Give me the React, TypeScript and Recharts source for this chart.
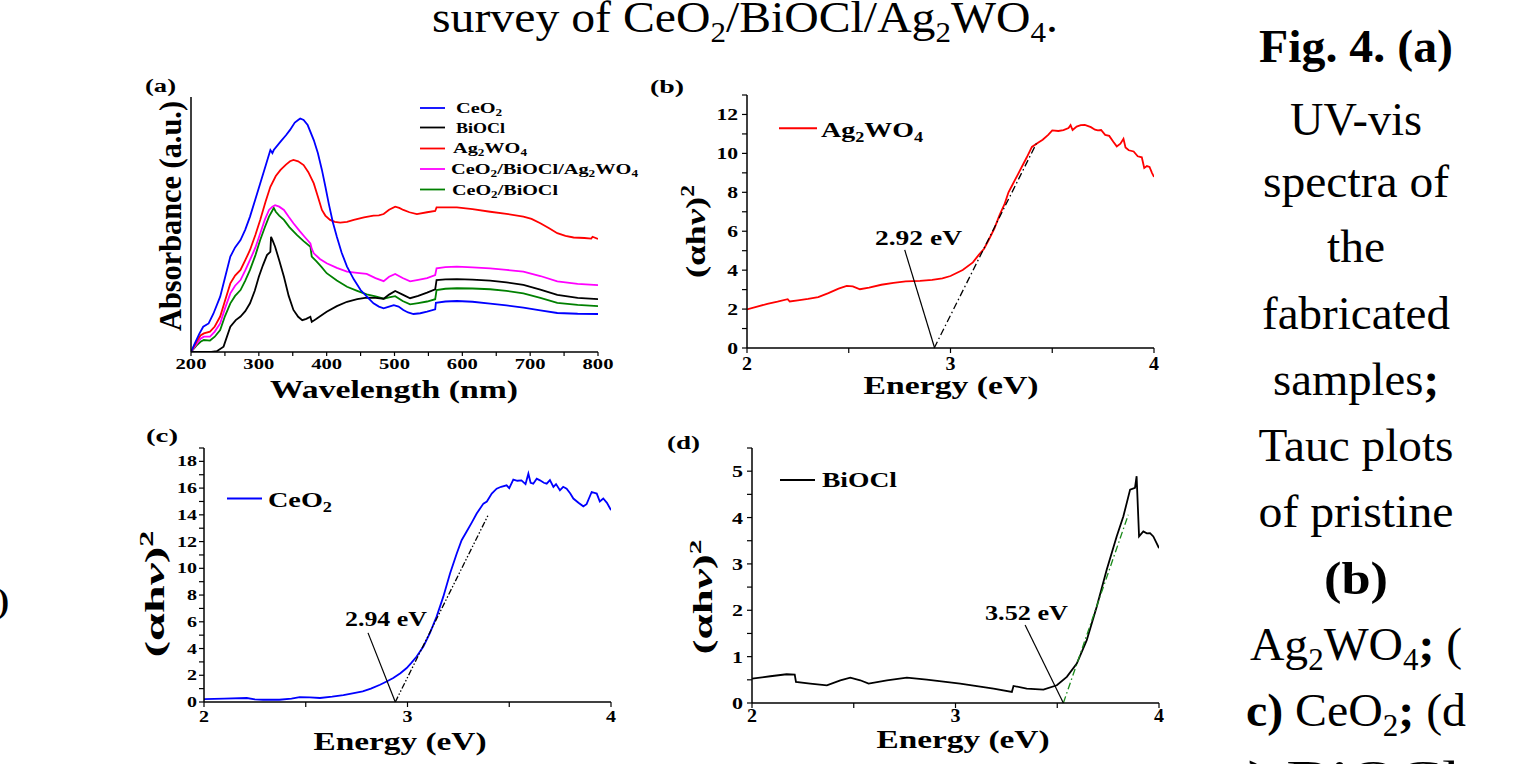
import React from 'react';
import { LineChart, Line, XAxis, YAxis, ReferenceLine } from 'recharts';

const SERIF = '"Liberation Serif", "Times New Roman", serif';

// ---------- Panel (a): UV-vis absorbance (wavelength nm, absorbance a.u.) ----------
const UV_CEO2: [number, number][] = [
  [200, 0], [205, 0.03], [212, 0.07], [218, 0.099], [226, 0.112], [233, 0.15], [243, 0.217], [250, 0.29],
  [258, 0.374], [265, 0.41], [273, 0.439], [280, 0.48], [287, 0.531], [295, 0.6], [302, 0.661], [310, 0.73],
  [317, 0.792], [320, 0.78], [322, 0.792], [332, 0.825], [340, 0.85], [346, 0.871], [353, 0.9], [358, 0.91],
  [361, 0.916], [366, 0.91], [372, 0.89], [381, 0.831], [387, 0.78], [393, 0.714], [398, 0.65], [403, 0.583],
  [409, 0.51], [415, 0.452], [422, 0.39], [430, 0.335], [440, 0.285], [450, 0.243], [460, 0.215], [469, 0.191],
  [477, 0.178], [484, 0.171], [492, 0.178], [499, 0.184], [506, 0.178], [513, 0.165], [520, 0.155], [528, 0.149],
  [538, 0.152], [548, 0.158], [560, 0.167], [561, 0.193], [575, 0.198], [592, 0.2], [615, 0.197], [641, 0.19],
  [665, 0.183], [690, 0.174], [715, 0.163], [740, 0.153], [770, 0.15], [800, 0.149],
];
const UV_BIOCL: [number, number][] = [
  [200, 0], [215, 0], [230, 0], [238, 0.003], [248, 0.021], [258, 0.099], [266, 0.125], [273, 0.139],
  [280, 0.16], [287, 0.191], [294, 0.24], [300, 0.295], [306, 0.34], [312, 0.38], [317, 0.393], [318, 0.452],
  [320, 0.44], [324, 0.413], [330, 0.36], [337, 0.295], [344, 0.22], [351, 0.165], [358, 0.138], [364, 0.125],
  [370, 0.13], [376, 0.138], [378, 0.118], [385, 0.13], [400, 0.158], [415, 0.18], [430, 0.197], [445, 0.207],
  [459, 0.213], [472, 0.212], [484, 0.209], [492, 0.225], [501, 0.239], [512, 0.225], [523, 0.211], [535, 0.22],
  [548, 0.233], [560, 0.246], [562, 0.282], [575, 0.285], [592, 0.286], [615, 0.284], [641, 0.28], [665, 0.273],
  [690, 0.263], [715, 0.245], [740, 0.224], [770, 0.212], [800, 0.207],
];
const UV_AG2WO4: [number, number][] = [
  [200, 0], [208, 0.04], [214, 0.065], [219, 0.073], [228, 0.08], [235, 0.1], [243, 0.139], [250, 0.2],
  [258, 0.269], [265, 0.3], [273, 0.322], [280, 0.36], [287, 0.4], [295, 0.46], [302, 0.518], [310, 0.59],
  [317, 0.648], [325, 0.69], [332, 0.714], [340, 0.735], [346, 0.748], [351, 0.753], [358, 0.748], [366, 0.733],
  [373, 0.705], [381, 0.661], [387, 0.61], [393, 0.557], [398, 0.535], [405, 0.518], [412, 0.51], [420, 0.507],
  [430, 0.51], [440, 0.518], [455, 0.528], [469, 0.535], [477, 0.536], [484, 0.541], [492, 0.558], [501, 0.57],
  [507, 0.565], [513, 0.557], [522, 0.548], [533, 0.541], [548, 0.548], [560, 0.553], [562, 0.567], [575, 0.567],
  [592, 0.567], [615, 0.56], [641, 0.55], [665, 0.542], [690, 0.531], [702, 0.522], [715, 0.505], [728, 0.485],
  [740, 0.466], [752, 0.455], [764, 0.449], [780, 0.447], [790, 0.445], [792, 0.452], [800, 0.443],
];
const UV_CEO2_BIOCL_AG2WO4: [number, number][] = [
  [200, 0], [208, 0.03], [214, 0.052], [219, 0.06], [228, 0.06], [235, 0.08], [243, 0.112], [250, 0.17],
  [258, 0.23], [265, 0.26], [273, 0.282], [280, 0.32], [287, 0.361], [295, 0.41], [302, 0.465], [309, 0.52],
  [315, 0.557], [320, 0.57], [324, 0.576], [330, 0.57], [337, 0.557], [344, 0.53], [351, 0.505], [360, 0.475],
  [368, 0.45], [376, 0.426], [378, 0.405], [381, 0.387], [390, 0.365], [400, 0.348], [415, 0.33], [430, 0.315],
  [445, 0.31], [459, 0.306], [472, 0.29], [484, 0.278], [492, 0.295], [501, 0.306], [512, 0.29], [523, 0.277],
  [535, 0.283], [548, 0.29], [560, 0.302], [562, 0.328], [575, 0.333], [592, 0.335], [615, 0.332], [641, 0.328],
  [665, 0.322], [690, 0.315], [715, 0.298], [740, 0.277], [770, 0.267], [800, 0.262],
];
const UV_CEO2_BIOCL: [number, number][] = [
  [200, 0], [208, 0.025], [214, 0.04], [219, 0.047], [228, 0.045], [235, 0.06], [243, 0.086], [250, 0.14],
  [258, 0.191], [265, 0.22], [273, 0.243], [280, 0.28], [287, 0.322], [295, 0.38], [302, 0.439], [309, 0.49],
  [315, 0.531], [320, 0.555], [322, 0.565], [325, 0.55], [330, 0.535], [337, 0.518], [345, 0.49], [356, 0.459],
  [366, 0.435], [376, 0.413], [378, 0.374], [385, 0.355], [392, 0.335], [400, 0.309], [415, 0.28], [430, 0.256],
  [445, 0.24], [459, 0.226], [472, 0.218], [484, 0.209], [492, 0.214], [501, 0.219], [512, 0.2], [523, 0.187],
  [535, 0.192], [548, 0.198], [560, 0.207], [562, 0.243], [575, 0.248], [592, 0.25], [615, 0.249], [641, 0.246],
  [665, 0.24], [690, 0.23], [715, 0.212], [740, 0.193], [770, 0.185], [800, 0.18],
];

// ---------- Panel (b): Tauc plot Ag2WO4 ----------
const TAUC_AG2WO4: [number, number][] = [
  [2.0, 1.98], [2.05, 2.12], [2.1, 2.27], [2.15, 2.38], [2.2, 2.51], [2.21, 2.39], [2.25, 2.45], [2.3, 2.52],
  [2.35, 2.62], [2.4, 2.82], [2.45, 3.05], [2.49, 3.19], [2.52, 3.17], [2.555, 3.02], [2.6, 3.1], [2.66, 3.25],
  [2.72, 3.35], [2.78, 3.42], [2.85, 3.45], [2.91, 3.5], [2.96, 3.58], [3.0, 3.7], [3.06, 4.01], [3.11, 4.4],
  [3.14, 4.8], [3.165, 5.1], [3.19, 5.6], [3.216, 6.15], [3.24, 6.8], [3.267, 7.43], [3.285, 8.0], [3.3, 8.3],
  [3.33, 8.9], [3.35, 9.3], [3.375, 9.8], [3.4, 10.33], [3.43, 10.55], [3.453, 10.7], [3.48, 10.95], [3.5, 11.18],
  [3.53, 11.15], [3.555, 11.2], [3.58, 11.3], [3.59, 11.45], [3.6, 11.2], [3.62, 11.38], [3.64, 11.45], [3.66, 11.46],
  [3.69, 11.35], [3.71, 11.22], [3.724, 11.18], [3.74, 11.2], [3.76, 10.95], [3.78, 10.9], [3.8, 10.6], [3.817, 10.36],
  [3.835, 10.5], [3.85, 10.75], [3.86, 10.3], [3.876, 10.16], [3.9, 10.1], [3.92, 9.85], [3.94, 9.8], [3.952, 9.25],
  [3.965, 9.35], [3.978, 9.3], [3.99, 9.0], [4.0, 8.79],
];
const TANGENT_B: [number, number][] = [[2.92, 0], [3.422, 10.51]];
const POINTER_B: [number, number][] = [[2.775, 5.04], [2.922, 0]];

// ---------- Panel (c): Tauc plot CeO2 ----------
const TAUC_CEO2: [number, number][] = [
  [2.0, 0.22], [2.1, 0.25], [2.21, 0.3], [2.25, 0.2], [2.29, 0.17], [2.37, 0.17], [2.43, 0.25], [2.47, 0.37],
  [2.52, 0.35], [2.57, 0.3], [2.63, 0.4], [2.685, 0.52], [2.73, 0.65], [2.78, 0.8], [2.82, 1.0], [2.865, 1.29],
  [2.9, 1.55], [2.93, 1.79], [2.965, 2.15], [2.996, 2.54], [3.02, 2.95], [3.045, 3.4], [3.078, 4.15], [3.11, 5.15],
  [3.143, 6.39], [3.176, 7.88], [3.209, 9.62], [3.242, 11.11], [3.266, 12.1], [3.29, 12.73], [3.315, 13.4], [3.34, 14.1],
  [3.373, 14.84], [3.39, 15.0], [3.414, 15.59], [3.438, 15.96], [3.46, 16.1], [3.487, 16.21], [3.5, 16.0], [3.52, 16.63],
  [3.54, 16.55], [3.56, 16.58], [3.58, 16.3], [3.594, 17.08], [3.605, 16.4], [3.618, 16.33], [3.635, 16.7], [3.651, 16.58],
  [3.67, 16.4], [3.684, 16.33], [3.7, 16.6], [3.717, 16.09], [3.73, 16.3], [3.749, 15.84], [3.765, 16.1], [3.782, 15.96],
  [3.8, 15.6], [3.815, 15.22], [3.84, 14.9], [3.864, 14.64], [3.88, 14.8], [3.905, 15.71], [3.93, 15.59], [3.945, 15.0],
  [3.962, 15.22], [3.98, 14.9], [4.0, 14.35],
];
const TANGENT_C: [number, number][] = [[2.94, 0], [3.397, 14.0]];
const POINTER_C: [number, number][] = [[2.806, 5.17], [2.94, 0]];

// ---------- Panel (d): Tauc plot BiOCl ----------
const TAUC_BIOCL: [number, number][] = [
  [2.0, 0.527], [2.09, 0.577], [2.17, 0.62], [2.21, 0.613], [2.216, 0.455], [2.286, 0.418], [2.368, 0.382], [2.434, 0.49],
  [2.483, 0.548], [2.532, 0.49], [2.573, 0.418], [2.663, 0.49], [2.761, 0.548], [2.859, 0.505], [3.023, 0.418], [3.187, 0.31],
  [3.277, 0.238], [3.285, 0.368], [3.35, 0.31], [3.432, 0.289], [3.498, 0.382], [3.547, 0.563], [3.596, 0.851], [3.645, 1.356],
  [3.694, 2.078], [3.743, 2.872], [3.792, 3.593], [3.825, 4.026], [3.858, 4.603], [3.882, 4.639], [3.89, 4.892], [3.902, 3.593],
  [3.923, 3.701], [3.94, 3.66], [3.956, 3.665], [3.972, 3.593], [4.0, 3.34],
];
const TANGENT_D: [number, number][] = [[3.53, 0], [3.849, 4.06]];
const POINTER_D: [number, number][] = [[3.342, 1.68], [3.53, 0]];

// ---------- Ticks ----------
const A_XTICKS = [200, 250, 300, 350, 400, 450, 500, 550, 600, 650, 700, 750, 800];
const A_XLABELS = [200, 300, 400, 500, 600, 700, 800];
const E_XTICKS = [2, 2.5, 3, 3.5, 4];
const E_XLABELS = [2, 3, 4];
const B_YTICKS = [0, 1, 2, 3, 4, 5, 6, 7, 8, 9, 10, 11, 12, 13];
const B_YLABELS = [0, 2, 4, 6, 8, 10, 12];
const C_YTICKS = [0, 1, 2, 3, 4, 5, 6, 7, 8, 9, 10, 11, 12, 13, 14, 15, 16, 17, 18, 19];
const C_YLABELS = [0, 2, 4, 6, 8, 10, 12, 14, 16, 18];
const D_YTICKS = [0, 0.5, 1, 1.5, 2, 2.5, 3, 3.5, 4, 4.5, 5, 5.5];
const D_YLABELS = [0, 1, 2, 3, 4, 5];

const pts = (arr: [number, number][]) => arr.map(([x, y]) => ({ x, y }));

function makeTick(axis: 'x' | 'y', labels: number[], size: number, cw: number, dy: number) {
  return (props: any) => {
    const { x, y, payload } = props;
    const v = payload.value;
    if (!labels.some((l) => Math.abs(l - v) < 1e-9)) return <g />;
    const s = String(v);
    return (
      <text
        x={x}
        y={y}
        dy={dy}
        textAnchor={axis === 'y' ? 'end' : 'middle'}
        fontFamily={SERIF}
        fontWeight="bold"
        fontSize={size}
        textLength={s.length * cw}
        lengthAdjust="spacingAndGlyphs"
        fill="#000"
      >
        {s}
      </text>
    );
  };
}

type Part = { t: string; sub?: boolean; sup?: boolean; b?: boolean; i?: boolean };

function Txt(props: {
  x: number; y: number; size: number; len?: number; anchor?: 'start' | 'middle' | 'end';
  bold?: boolean; rot?: boolean; parts: Part[];
}) {
  const { x, y, size, len, anchor = 'start', bold = false, rot = false, parts } = props;
  let shift = 0;
  const children = parts.map((p, k) => {
    let target = 0;
    if (p.sub) target = size * 0.22;
    if (p.sup) target = -size * 0.4;
    const dy = target - shift;
    shift = target;
    return (
      <tspan
        key={k}
        dy={dy}
        fontSize={p.sub || p.sup ? size * 0.65 : size}
        fontWeight={p.b === undefined ? undefined : p.b ? 'bold' : 'normal'}
        fontStyle={p.i ? 'italic' : undefined}
      >
        {p.t}
      </tspan>
    );
  });
  return (
    <text
      x={x}
      y={y}
      fontFamily={SERIF}
      fontSize={size}
      fontWeight={bold ? 'bold' : 'normal'}
      textAnchor={anchor}
      fill="#000"
      textLength={len}
      lengthAdjust={len ? 'spacingAndGlyphs' : undefined}
      transform={rot ? `rotate(-90 ${x} ${y})` : undefined}
    >
      {children}
    </text>
  );
}

const axisLine = { stroke: '#000', strokeWidth: 1.5 };
const tickLine = { stroke: '#000', strokeWidth: 1.2 };

const TAUC_Y_TITLE: Part[] = [{ t: '(αh' }, { t: 'ν', i: true }, { t: ')' }, { t: '2', sup: true }];

export default function App() {
  return (
    <div style={{ position: 'absolute', left: 0, top: 0, width: 1516, height: 764, overflow: 'hidden', background: '#fff' }}>
      {/* Panel (a) */}
      <div style={{ position: 'absolute', left: 151, top: 87 }}>
        <LineChart width={467} height={305} margin={{ top: 10, right: 20, left: 0, bottom: 0 }}>
          <XAxis type="number" dataKey="x" domain={[200, 800]} ticks={A_XTICKS} interval={0} height={40}
            axisLine={axisLine} tickLine={tickLine} tickSize={4} tick={makeTick('x', A_XLABELS, 15, 10.3, 11)} allowDataOverflow />
          <YAxis type="number" dataKey="y" domain={[0, 1]} width={40} axisLine={axisLine} tick={false} tickLine={false} allowDataOverflow />
          <Line data={pts(UV_CEO2_BIOCL)} dataKey="y" stroke="#008000" strokeWidth={1.8} dot={false} isAnimationActive={false} />
          <Line data={pts(UV_CEO2_BIOCL_AG2WO4)} dataKey="y" stroke="#ff00ff" strokeWidth={1.8} dot={false} isAnimationActive={false} />
          <Line data={pts(UV_AG2WO4)} dataKey="y" stroke="#ff0000" strokeWidth={1.8} dot={false} isAnimationActive={false} />
          <Line data={pts(UV_BIOCL)} dataKey="y" stroke="#000000" strokeWidth={1.8} dot={false} isAnimationActive={false} />
          <Line data={pts(UV_CEO2)} dataKey="y" stroke="#0000ff" strokeWidth={1.8} dot={false} isAnimationActive={false} />
        </LineChart>
      </div>

      {/* Panel (b) */}
      <div style={{ position: 'absolute', left: 697, top: 85 }}>
        <LineChart width={477} height={308} margin={{ top: 10, right: 20, left: 0, bottom: 0 }}>
          <XAxis type="number" dataKey="x" domain={[2, 4]} ticks={E_XTICKS} interval={0} height={45}
            axisLine={axisLine} tickLine={tickLine} tickSize={5} tick={makeTick('x', E_XLABELS, 19, 10, 14.7)} allowDataOverflow />
          <YAxis type="number" dataKey="y" domain={[0, 13]} ticks={B_YTICKS} interval={0} width={50}
            axisLine={axisLine} tickLine={tickLine} tickSize={5} tickMargin={4} tick={makeTick('y', B_YLABELS, 17, 10.8, 6)} allowDataOverflow />
          <Line data={pts(TAUC_AG2WO4)} dataKey="y" stroke="#ff0000" strokeWidth={1.8} dot={false} isAnimationActive={false} />
          <ReferenceLine segment={pts(TANGENT_B)} stroke="#000" strokeWidth={1.3} strokeDasharray="7 3 1.5 3" ifOverflow="visible" />
          <ReferenceLine segment={pts(POINTER_B)} stroke="#000" strokeWidth={1.2} ifOverflow="visible" />
        </LineChart>
      </div>

      {/* Panel (c) */}
      <div style={{ position: 'absolute', left: 154, top: 438 }}>
        <LineChart width={477} height={309} margin={{ top: 10, right: 20, left: 0, bottom: 0 }}>
          <XAxis type="number" dataKey="x" domain={[2, 4]} ticks={E_XTICKS} interval={0} height={45}
            axisLine={axisLine} tickLine={tickLine} tickSize={5} tick={makeTick('x', E_XLABELS, 17, 10, 13)} allowDataOverflow />
          <YAxis type="number" dataKey="y" domain={[0, 19]} ticks={C_YTICKS} interval={0} width={50}
            axisLine={axisLine} tickLine={tickLine} tickSize={5} tick={makeTick('y', C_YLABELS, 15, 10, 5)} allowDataOverflow />
          <Line data={pts(TAUC_CEO2)} dataKey="y" stroke="#0000ff" strokeWidth={1.8} dot={false} isAnimationActive={false} />
          <ReferenceLine segment={pts(TANGENT_C)} stroke="#000" strokeWidth={1.3} strokeDasharray="6 2 1.5 2 1.5 2" ifOverflow="visible" />
          <ReferenceLine segment={pts(POINTER_C)} stroke="#000" strokeWidth={1.2} ifOverflow="visible" />
        </LineChart>
      </div>

      {/* Panel (d) */}
      <div style={{ position: 'absolute', left: 702, top: 438 }}>
        <LineChart width={477} height={310} margin={{ top: 10, right: 20, left: 0, bottom: 0 }}>
          <XAxis type="number" dataKey="x" domain={[2, 4]} ticks={E_XTICKS} interval={0} height={45}
            axisLine={axisLine} tickLine={tickLine} tickSize={5} tick={makeTick('x', E_XLABELS, 18, 10, 12)} allowDataOverflow />
          <YAxis type="number" dataKey="y" domain={[0, 5.5]} ticks={D_YTICKS} interval={0} width={50}
            axisLine={axisLine} tickLine={tickLine} tickSize={5} tickMargin={4} tick={makeTick('y', D_YLABELS, 17, 11, 6)} allowDataOverflow />
          <Line data={pts(TAUC_BIOCL)} dataKey="y" stroke="#000000" strokeWidth={1.8} dot={false} isAnimationActive={false} />
          <ReferenceLine segment={pts(TANGENT_D)} stroke="#1a8a1a" strokeWidth={1.3} strokeDasharray="7 3 1.5 3" ifOverflow="visible" />
          <ReferenceLine segment={pts(POINTER_D)} stroke="#000" strokeWidth={1.2} ifOverflow="visible" />
        </LineChart>
      </div>

      {/* Text overlay: titles, legends, annotations, captions */}
      <svg width={1516} height={764} style={{ position: 'absolute', left: 0, top: 0, pointerEvents: 'none' }}>
        {/* top caption */}
        <Txt x={432} y={32} size={45} len={626} parts={[
          { t: 'survey of CeO' }, { t: '2', sub: true }, { t: '/BiOCl/Ag' }, { t: '2', sub: true }, { t: 'WO' }, { t: '4', sub: true }, { t: '.' },
        ]} />

        {/* right caption */}
        <Txt x={1356} y={62} size={47} len={194} anchor="middle" bold parts={[{ t: 'Fig. 4. (a)' }]} />
        <Txt x={1356} y={135} size={47} len={132} anchor="middle" parts={[{ t: 'UV-vis' }]} />
        <Txt x={1356} y={197} size={47} len={186} anchor="middle" parts={[{ t: 'spectra of' }]} />
        <Txt x={1356} y={262} size={47} len={58} anchor="middle" parts={[{ t: 'the' }]} />
        <Txt x={1356} y={329} size={47} len={188} anchor="middle" parts={[{ t: 'fabricated' }]} />
        <Txt x={1356} y={395} size={47} len={166} anchor="middle" parts={[{ t: 'samples' }, { t: ';', b: true }]} />
        <Txt x={1356} y={461} size={47} len={195} anchor="middle" parts={[{ t: 'Tauc plots' }]} />
        <Txt x={1356} y={527} size={47} len={195} anchor="middle" parts={[{ t: 'of pristine' }]} />
        <Txt x={1356} y={594} size={47} len={64} anchor="middle" bold parts={[{ t: '(b)' }]} />
        <Txt x={1356} y={660} size={47} len={212} anchor="middle" parts={[
          { t: 'Ag' }, { t: '2', sub: true }, { t: 'WO' }, { t: '4', sub: true }, { t: ';', b: true }, { t: ' (' },
        ]} />
        <Txt x={1356} y={726} size={47} len={220} anchor="middle" parts={[
          { t: 'c)', b: true }, { t: ' CeO' }, { t: '2', sub: true }, { t: ';', b: true }, { t: ' (d' },
        ]} />
        <Txt x={1354} y={793} size={47} len={213} anchor="middle" parts={[{ t: ')', b: true }, { t: ' BiOCl' }]} />

        {/* left edge fragment */}
        <Txt x={9} y={612} size={34} anchor="end" bold parts={[{ t: ')' }]} />

        {/* panel labels */}
        <Txt x={145} y={92} size={18} len={31} bold parts={[{ t: '(a)' }]} />
        <Txt x={650} y={93} size={18} len={34} bold parts={[{ t: '(b)' }]} />
        <Txt x={146} y={442} size={18} len={32} bold parts={[{ t: '(c)' }]} />
        <Txt x={667} y={449} size={18} len={33} bold parts={[{ t: '(d)' }]} />

        {/* (a) titles and legend */}
        <Txt x={181} y={216} size={31} len={230} anchor="middle" bold rot parts={[{ t: 'Absorbance (a.u.)' }]} />
        <Txt x={394} y={398} size={26} len={248} anchor="middle" bold parts={[{ t: 'Wavelength (nm)' }]} />
        <line x1={420} x2={445} y1={108} y2={108} stroke="#0000ff" strokeWidth={1.8} />
        <Txt x={456} y={113} size={15} len={46} bold parts={[{ t: 'CeO' }, { t: '2', sub: true }]} />
        <line x1={420} x2={445} y1={127.5} y2={127.5} stroke="#000" strokeWidth={1.8} />
        <Txt x={456} y={132.5} size={15} len={49} bold parts={[{ t: 'BiOCl' }]} />
        <line x1={420} x2={445} y1={148.5} y2={148.5} stroke="#ff0000" strokeWidth={1.8} />
        <Txt x={453} y={153} size={15} len={74} bold parts={[{ t: 'Ag' }, { t: '2', sub: true }, { t: 'WO' }, { t: '4', sub: true }]} />
        <line x1={420} x2={445} y1={169} y2={169} stroke="#ff00ff" strokeWidth={1.8} />
        <Txt x={451} y={174} size={15} len={187} bold parts={[
          { t: 'CeO' }, { t: '2', sub: true }, { t: '/BiOCl/Ag' }, { t: '2', sub: true }, { t: 'WO' }, { t: '4', sub: true },
        ]} />
        <line x1={420} x2={445} y1={189.5} y2={189.5} stroke="#008000" strokeWidth={1.8} />
        <Txt x={452} y={195} size={15} len={106} bold parts={[{ t: 'CeO' }, { t: '2', sub: true }, { t: '/BiOCl' }]} />

        {/* (b) titles, legend, annotation */}
        <Txt x={705} y={231.5} size={28} len={93} anchor="middle" bold rot parts={TAUC_Y_TITLE} />
        <Txt x={951} y={394} size={25} len={175} anchor="middle" bold parts={[{ t: 'Energy (eV)' }]} />
        <line x1={779} x2={817} y1={128.3} y2={128.3} stroke="#ff0000" strokeWidth={2} />
        <Txt x={821} y={137} size={22} len={102} bold parts={[{ t: 'Ag' }, { t: '2', sub: true }, { t: 'WO' }, { t: '4', sub: true }]} />
        <Txt x={875} y={245} size={21} len={87} bold parts={[{ t: '2.92 eV' }]} />

        {/* (c) titles, legend, annotation */}
        <Txt x={164} y={594} size={28} len={127} anchor="middle" bold rot parts={TAUC_Y_TITLE} />
        <Txt x={400} y={750} size={25} len={173} anchor="middle" bold parts={[{ t: 'Energy (eV)' }]} />
        <line x1={227} x2={262} y1={498.5} y2={498.5} stroke="#0000ff" strokeWidth={2.2} />
        <Txt x={268} y={507} size={22} len={64} bold parts={[{ t: 'CeO' }, { t: '2', sub: true }]} />
        <Txt x={345} y={626} size={20} len={82} bold parts={[{ t: '2.94 eV' }]} />

        {/* (d) titles, legend, annotation */}
        <Txt x={712} y={597} size={27} len={115} anchor="middle" bold rot parts={TAUC_Y_TITLE} />
        <Txt x={963} y={748} size={25} len={173} anchor="middle" bold parts={[{ t: 'Energy (eV)' }]} />
        <line x1={780} x2={815} y1={480} y2={480} stroke="#000" strokeWidth={2} />
        <Txt x={822} y={487} size={20} len={75} bold parts={[{ t: 'BiOCl' }]} />
        <Txt x={985} y={620} size={20} len={83} bold parts={[{ t: '3.52 eV' }]} />
      </svg>
    </div>
  );
}
